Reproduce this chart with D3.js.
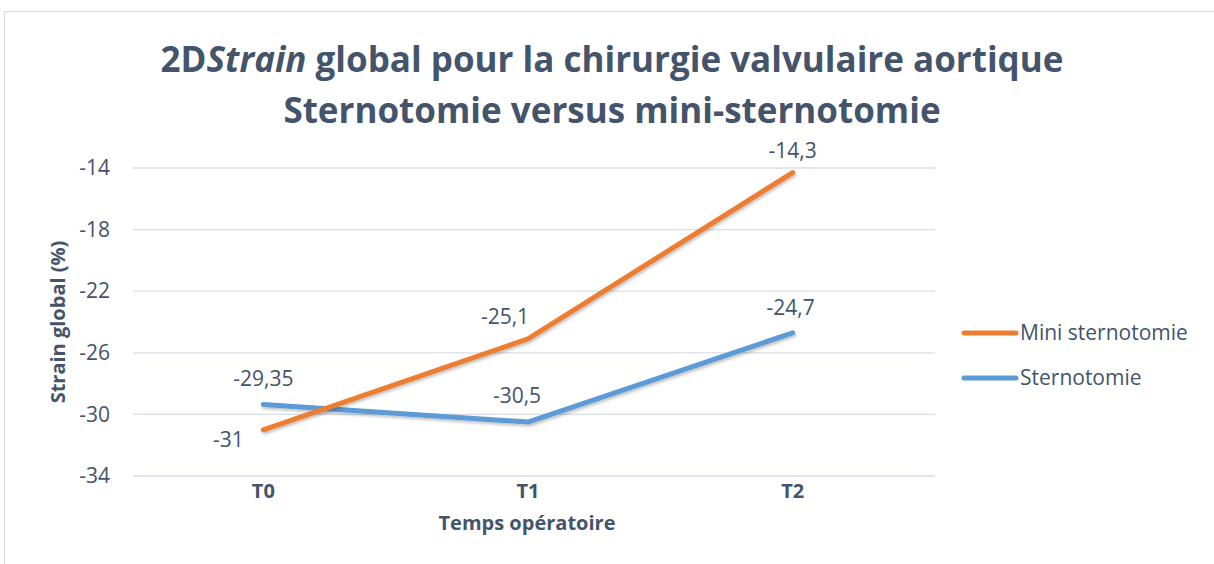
<!DOCTYPE html>
<html>
<head>
<meta charset="utf-8">
<script src="https://cdn.jsdelivr.net/npm/d3@7"></script>
<style>
  body { margin: 0; background: #fff; }
  text { font-family: "Open Sans", "Noto Sans", sans-serif; fill: #44546A; }
</style>
</head>
<body>
<div id="chart"></div>
<script>
var categories = ['T0', 'T1', 'T2'];
var miniValues = [-31, -25.1, -14.3];
var sternoValues = [-29.35, -30.5, -24.7];
var miniLabels = ['-31', '-25,1', '-14,3'];
var sternoLabels = ['-29,35', '-30,5', '-24,7'];
var yTicks = [-14, -18, -22, -26, -30, -34];

var width = 1214, height = 564;
var svg = d3.select('#chart').append('svg')
    .attr('width', width)
    .attr('height', height);

// outer frame
svg.append('rect')
    .attr('x', 4.5).attr('y', 11.5)
    .attr('width', 1220).attr('height', 600)
    .attr('fill', 'none')
    .attr('stroke', '#D9D9D9');

var x = d3.scaleBand().domain(categories).range([131, 925]);
var y = d3.scaleLinear().domain([-34, -14]).range([476, 168]);

// gridlines
svg.append('g').selectAll('line')
    .data(yTicks).enter().append('line')
    .attr('x1', 133).attr('x2', 935)
    .attr('y1', function(d) { return y(d); })
    .attr('y2', function(d) { return y(d); })
    .attr('stroke', '#D9DEE6').attr('stroke-width', 1.3);

// y axis tick labels
var yAxis = d3.axisLeft(y).tickValues(yTicks).tickSize(0).tickPadding(0)
    .tickFormat(function(d) { return d; });
var gy = svg.append('g').attr('transform', 'translate(110,0)').call(yAxis);
gy.select('.domain').remove();
gy.selectAll('text').style('font-size', '21px').attr('fill', '#44546A')
    .style('font-family', '"Open Sans", sans-serif');

// x axis tick labels
var xAxis = d3.axisBottom(x).tickSize(0).tickPadding(0);
var gx = svg.append('g').attr('transform', 'translate(0,484)').call(xAxis);
gx.select('.domain').remove();
gx.selectAll('text').style('font-size', '20px').style('font-weight', 'bold')
    .attr('fill', '#44546A').style('font-family', '"Open Sans", sans-serif');

// titles
var title = svg.append('text')
    .attr('x', 612).attr('y', 72)
    .attr('text-anchor', 'middle')
    .style('font-size', '35px').style('font-weight', 'bold');
title.append('tspan').text('2D');
title.append('tspan').style('font-style', 'italic').text('Strain');
title.append('tspan').text(' global pour la chirurgie valvulaire aortique');

svg.append('text')
    .attr('x', 612).attr('y', 123)
    .attr('text-anchor', 'middle')
    .style('font-size', '35px').style('font-weight', 'bold')
    .text('Sternotomie versus mini-sternotomie');

svg.append('text')
    .attr('transform', 'translate(65,322) rotate(-90)')
    .attr('text-anchor', 'middle')
    .style('font-size', '20px').style('font-weight', 'bold')
    .text('Strain global (%)');

svg.append('text')
    .attr('x', 527).attr('y', 530)
    .attr('text-anchor', 'middle')
    .style('font-size', '20px').style('font-weight', 'bold')
    .text('Temps opératoire');

// lines
var defs = svg.append('defs');
var f = defs.append('filter').attr('id', 'shadow')
    .attr('x', '-10%').attr('y', '-10%').attr('width', '120%').attr('height', '130%');
f.append('feDropShadow').attr('dx', 1).attr('dy', 2).attr('stdDeviation', 1.5)
    .attr('flood-color', '#000').attr('flood-opacity', 0.25);

var line = d3.line()
    .x(function(d, i) { return x(categories[i]) + x.bandwidth() / 2; })
    .y(function(d) { return y(d); });

var series = [
    { name: 'Sternotomie', values: sternoValues, labels: sternoLabels, color: '#5B9BD5' },
    { name: 'Mini sternotomie', values: miniValues, labels: miniLabels, color: '#ED7D31' }
];

series.forEach(function(s) {
    svg.append('path')
        .attr('d', line(s.values))
        .attr('fill', 'none')
        .attr('stroke', s.color)
        .attr('stroke-width', 5)
        .attr('stroke-linecap', 'round')
        .attr('stroke-linejoin', 'round')
        .attr('filter', 'url(#shadow)');
});

// data labels (offsets from the point, in px)
var labelOffsets = {
    'Mini sternotomie': [[-35, 17], [-23, -15], [0, -15]],
    'Sternotomie': [[0, -18], [-11, -19], [-2, -18]]
};
series.forEach(function(s) {
    svg.append('g').selectAll('text')
        .data(s.values).enter().append('text')
        .attr('x', function(d, i) { return x(categories[i]) + x.bandwidth() / 2 + labelOffsets[s.name][i][0]; })
        .attr('y', function(d, i) { return y(d) + labelOffsets[s.name][i][1]; })
        .attr('text-anchor', 'middle')
        .style('font-size', '21px')
        .text(function(d, i) { return s.labels[i]; });
});

// legend
var legendItems = [series[1], series[0]];
var lg = svg.append('g').selectAll('g')
    .data(legendItems).enter().append('g')
    .attr('transform', function(d, i) { return 'translate(0,' + (333 + i * 45) + ')'; });
lg.append('line')
    .attr('x1', 964).attr('x2', 1016)
    .attr('stroke', function(d) { return d.color; })
    .attr('stroke-width', 5)
    .attr('stroke-linecap', 'round');
lg.append('text')
    .attr('x', 1020).attr('y', 7)
    .style('font-size', '21px')
    .text(function(d) { return d.name; });
</script>
</body>
</html>
